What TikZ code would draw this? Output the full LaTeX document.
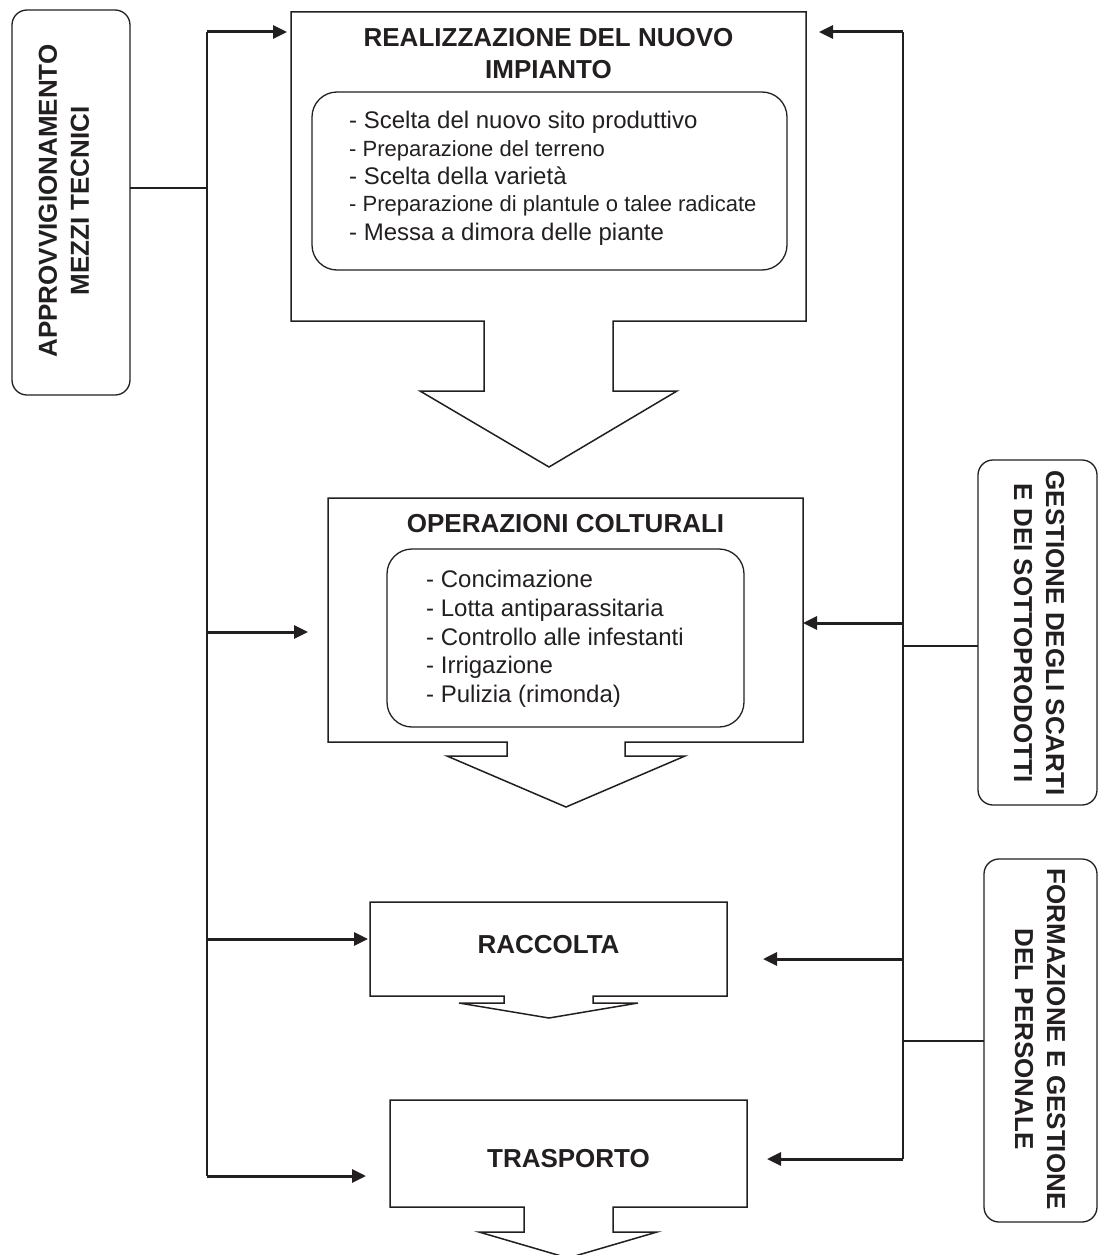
\documentclass[tikz,border=0pt]{standalone}
\usepackage{fontspec}
\setmainfont{Liberation Sans}
\usetikzlibrary{arrows.meta}
\definecolor{ink}{RGB}{35,31,32}

\tikzset{
  outline/.style={draw=ink, line width=1.5pt, line join=miter},
  innerbox/.style={draw=ink, line width=1.3pt, rounded corners=25pt},
  tagbox/.style={draw=ink, line width=1.3pt, rounded corners=15pt, inner sep=0pt},
  bus/.style={draw=ink, line width=1.8pt},
  link/.style={draw=ink, line width=1.1pt},
  feed/.style={draw=ink, line width=3pt, -{Triangle[length=14pt,width=13pt]}},
  title/.style={font=\fontsize{26}{32}\selectfont\bfseries, text=ink, inner sep=0pt, anchor=base},
  item/.style={font=\fontsize{24}{28}\selectfont, text=ink, inner sep=0pt, anchor=base west},
  smallitem/.style={font=\fontsize{22}{28}\selectfont, text=ink, inner sep=0pt, anchor=base west},
  sidetext/.style={font=\fontsize{26}{32}\selectfont\bfseries, text=ink, align=center, inner sep=0pt},
}

\begin{document}
\begin{tikzpicture}[x=1pt, y=-1pt]
\useasboundingbox (0,0) rectangle (1098,1255);

% ---- stage boxes with their outgoing block arrows ----
\draw[outline] (291,12) -- (806,12) -- (806,321) -- (613,321) -- (613,391) -- (677,391)
  -- (549,467) -- (420,391) -- (484,391) -- (484,321) -- (291,321) -- cycle;
\draw[innerbox] (312,92) rectangle (787,270);

\draw[outline] (328,498) -- (803,498) -- (803,742) -- (625,742) -- (625,756) -- (685,756)
  -- (566,807) -- (447,756) -- (507,756) -- (507,742) -- (328,742) -- cycle;
\draw[innerbox] (387,549) rectangle (744,727);

\draw[outline] (370,902) -- (727,902) -- (727,996) -- (593,996) -- (593,1003) -- (638,1003)
  -- (549,1018) -- (459,1003) -- (504,1003) -- (504,996) -- (370,996) -- cycle;

\draw[outline] (390,1100) -- (747,1100) -- (747,1207) -- (613,1207) -- (613,1232) -- (657,1232)
  -- (568,1258) -- (479,1232) -- (524,1232) -- (524,1207) -- (390,1207) -- cycle;

% ---- stage texts ----
\node[title] (real1) at (548.5,47) {REALIZZAZIONE DEL NUOVO};
\node[title] (real2) at (548.5,78) {IMPIANTO};
\node[item]      (ri1) at (349,128) {- Scelta del nuovo sito produttivo};
\node[smallitem] (ri2) at (349,156) {- Preparazione del terreno};
\node[item]      (ri3) at (349,184) {- Scelta della varietà};
\node[smallitem] (ri4) at (349,211) {- Preparazione di plantule o talee radicate};
\node[item]      (ri5) at (349,240) {- Messa a dimora delle piante};

\node[title] (oper) at (565.5,532) {OPERAZIONI COLTURALI};
\node[item] (oi1) at (426,587) {- Concimazione};
\node[item] (oi2) at (426,616) {- Lotta antiparassitaria};
\node[item] (oi3) at (426,645) {- Controllo alle infestanti};
\node[item] (oi4) at (426,673) {- Irrigazione};
\node[item] (oi5) at (426,702) {- Pulizia (rimonda)};

\node[title] (racc) at (548.5,953) {RACCOLTA};
\node[title] (trasp) at (568.5,1167) {TRASPORTO};

% ---- side support boxes ----
\node[tagbox, minimum width=118pt, minimum height=385pt] (approv) at (71,202.5) {};
\node[sidetext, rotate=90] (approvtxt) at (64,201) {APPROVVIGIONAMENTO\\MEZZI TECNICI};

\node[tagbox, minimum width=119pt, minimum height=345pt] (scarti) at (1037.5,632.5) {};
\node[sidetext, rotate=-90] (scartitxt) at (1039,633) {GESTIONE DEGLI SCARTI\\E DEI SOTTOPRODOTTI};

\node[tagbox, minimum width=113pt, minimum height=363pt] (perso) at (1040.5,1040.5) {};
\node[sidetext, rotate=-90] (persotxt) at (1040,1039) {FORMAZIONE E GESTIONE\\DEL PERSONALE};

% ---- distribution lines ----
\coordinate (lbtop) at (207,32);
\coordinate (lbbot) at (207,1176);
\coordinate (rbtop) at (903,32);
\coordinate (rbbot) at (903,1159);

\draw[bus] (lbtop) -- (lbbot);
\draw[bus] (rbtop) -- (rbbot);

\coordinate (approvout) at (130,188);
\coordinate (scartiout) at (978,646);
\coordinate (persoout)  at (984,1041);
\draw[link] (approvout) -- (approvout -| lbtop);
\draw[link] (scartiout) -- (scartiout -| rbtop);
\draw[link] (persoout) -- (persoout -| rbtop);

% ---- feeds into the stages ----
\coordinate (realL) at (287,32);
\coordinate (operL) at (308,632);
\coordinate (raccL) at (368,939);
\coordinate (traspL) at (366,1176);
\draw[feed] (realL -| lbtop) -- (realL);
\draw[feed] (operL -| lbtop) -- (operL);
\draw[feed] (raccL -| lbtop) -- (raccL);
\draw[feed] (traspL -| lbtop) -- (traspL);

\coordinate (realR) at (819,32);
\coordinate (operR) at (803,623);
\coordinate (raccR) at (763,959);
\coordinate (traspR) at (767,1159);
\draw[feed] (realR -| rbtop) -- (realR);
\draw[feed] (operR -| rbtop) -- (operR);
\draw[feed] (raccR -| rbtop) -- (raccR);
\draw[feed] (traspR -| rbtop) -- (traspR);

\end{tikzpicture}
\end{document}
